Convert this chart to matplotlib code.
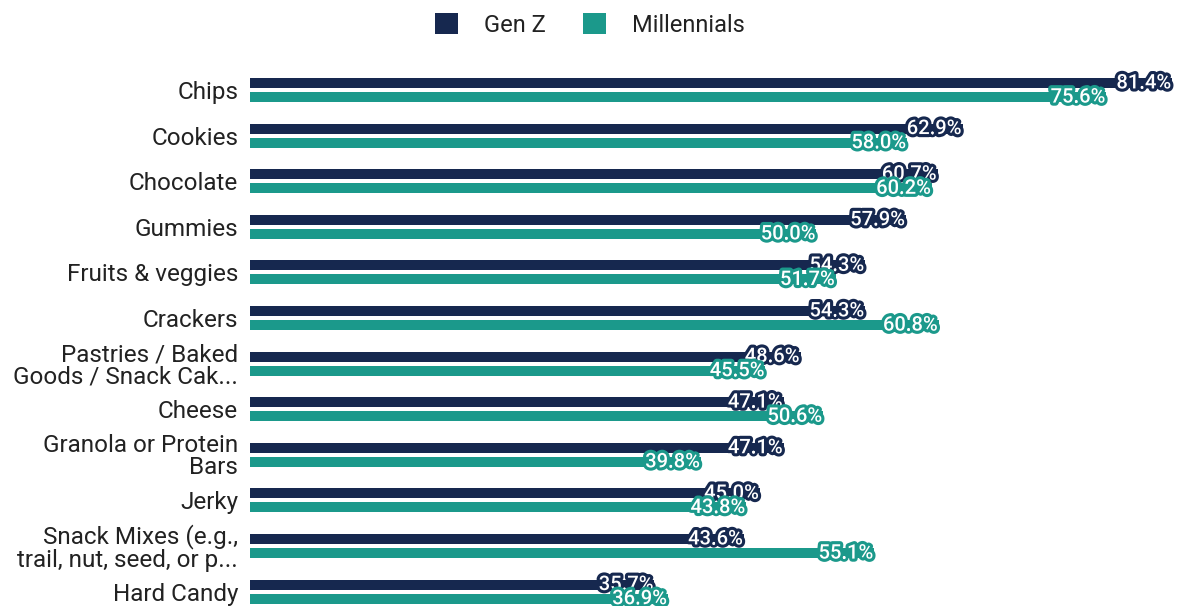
import numpy as np
import matplotlib.pyplot as plt
import matplotlib.patheffects as pe

categories = ['Chips', 'Cookies', 'Chocolate', 'Gummies', 'Fruits & veggies', 'Crackers',
              'Pastries / Baked\nGoods / Snack Cak...', 'Cheese', 'Granola or Protein\nBars',
              'Jerky', 'Snack Mixes (e.g.,\ntrail, nut, seed, or p...', 'Hard Candy']
gen_z = [81.4, 62.9, 60.7, 57.9, 54.3, 54.3, 48.6, 47.1, 47.1, 45.0, 43.6, 35.7]
millennials = [75.6, 58.0, 60.2, 50.0, 51.7, 60.8, 45.5, 50.6, 39.8, 43.8, 55.1, 36.9]

navy = '#16284f'
teal = '#1b998b'
plt.rcParams['font.family'] = ['Roboto', 'DejaVu Sans']

fig = plt.figure(figsize=(11.8, 6.06), dpi=100)
ax = fig.add_axes([250/1180, 0, 930/1180, 546/606])

y = np.arange(len(categories))
h = 0.22
off = 0.155
ax.barh(y - off, gen_z, height=h, color=navy, label='Gen Z')
ax.barh(y + off, millennials, height=h, color=teal, label='Millennials')

for yi, v in zip(y, gen_z):
    ax.text(v - 0.1, yi - off, f'{v:.1f}%', ha='right', va='center', color='white', fontsize=14.5,
            fontweight='medium', path_effects=[pe.withStroke(linewidth=4.5, foreground=navy)])
for yi, v in zip(y, millennials):
    ax.text(v - 0.1, yi + off, f'{v:.1f}%', ha='right', va='center', color='white', fontsize=14.5,
            fontweight='medium', path_effects=[pe.withStroke(linewidth=4.5, foreground=teal)])

ax.set_xlim(0, 82.1)
ax.set_ylim(-0.658 + 546/45.6, -0.658)
ax.set_yticks(y)
ax.set_yticklabels(categories, fontsize=17.5, color='#222222', linespacing=0.95)
ax.tick_params(axis='y', length=0, pad=8.5)
ax.set_xticks([])
for s in ax.spines.values():
    s.set_visible(False)

fig.legend(loc='upper center', bbox_to_anchor=(0.5, 1.013), ncol=2, frameon=False, fontsize=17,
           handlelength=0.95, handleheight=0.95, columnspacing=1.6, handletextpad=1.1,
           labelcolor='#222222')

plt.savefig('out.png')
